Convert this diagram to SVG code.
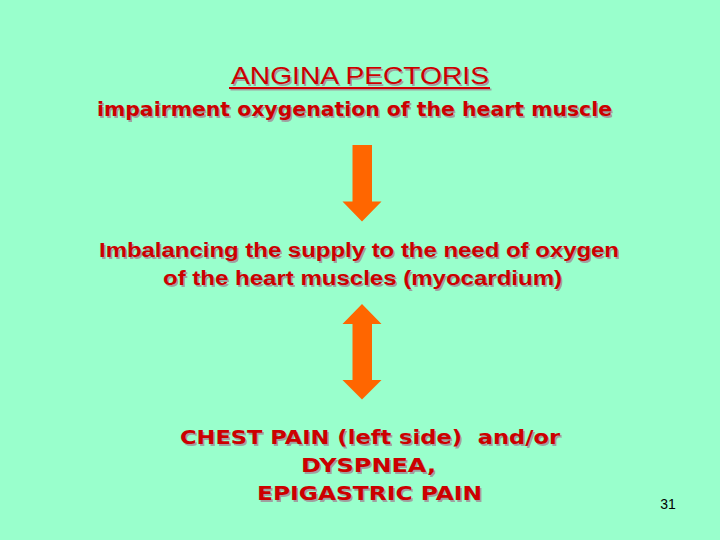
<svg xmlns="http://www.w3.org/2000/svg" width="720" height="540" viewBox="0 0 720 540">
<style>
.t{fill:#cc0000;text-anchor:middle}
.s{fill:#a0a0a0;text-anchor:middle}
.a{font-family:"Liberation Sans",Arial,sans-serif}
.c{font-family:"DejaVu Sans",sans-serif;font-size:20px;font-weight:bold}
.b{font-family:"Liberation Sans",Arial,sans-serif;font-weight:bold;font-size:20px}
.arrow{fill:#ff6600}
</style>
<defs>
<filter id="sh" x="-5%" y="-20%" width="110%" height="140%"><feGaussianBlur stdDeviation="0.4"/></filter>
</defs>
<rect width="720" height="540" fill="#99ffcc"/>
<g id="title">
<text class="s a" x="361.5" y="85.5" font-size="24" textLength="258" lengthAdjust="spacingAndGlyphs" filter="url(#sh)">ANGINA PECTORIS</text>
<rect x="230.5" y="88.5" width="261" height="2" fill="#a0a0a0"/>
<text class="t a" x="360" y="84" font-size="24" textLength="258" lengthAdjust="spacingAndGlyphs">ANGINA PECTORIS</text>
<rect x="229" y="87" width="261" height="2" fill="#cc0000"/>
<text class="s c" x="356" y="117.5" textLength="515" lengthAdjust="spacingAndGlyphs" filter="url(#sh)">impairment oxygenation of the heart muscle</text>
<text class="t c" x="354.5" y="116" textLength="515" lengthAdjust="spacingAndGlyphs">impairment oxygenation of the heart muscle</text>
</g>
<g id="imbalance">
<text class="s b" x="360.5" y="258.5" textLength="520" lengthAdjust="spacingAndGlyphs" filter="url(#sh)">Imbalancing the supply to the need of oxygen</text>
<text class="t b" x="359" y="257" textLength="520" lengthAdjust="spacingAndGlyphs">Imbalancing the supply to the need of oxygen</text>
<text class="s b" x="364" y="286.5" textLength="399" lengthAdjust="spacingAndGlyphs" filter="url(#sh)">of the heart muscles (myocardium)</text>
<text class="t b" x="362.5" y="285" textLength="399" lengthAdjust="spacingAndGlyphs">of the heart muscles (myocardium)</text>
</g>
<g id="symptoms">
<text class="s c" x="371.5" y="445.5" textLength="380" lengthAdjust="spacingAndGlyphs" filter="url(#sh)" xml:space="preserve">CHEST PAIN (left side)  and/or</text>
<text class="t c" x="370" y="444" textLength="380" lengthAdjust="spacingAndGlyphs" xml:space="preserve">CHEST PAIN (left side)  and/or</text>
<text class="s c" x="370" y="473.5" textLength="135" lengthAdjust="spacingAndGlyphs" filter="url(#sh)">DYSPNEA,</text>
<text class="t c" x="368.5" y="472" textLength="135" lengthAdjust="spacingAndGlyphs">DYSPNEA,</text>
<text class="s c" x="371" y="501.5" textLength="225" lengthAdjust="spacingAndGlyphs" filter="url(#sh)">EPIGASTRIC PAIN</text>
<text class="t c" x="369.5" y="500" textLength="225" lengthAdjust="spacingAndGlyphs">EPIGASTRIC PAIN</text>
</g>
<g id="connectors">
<path class="arrow" d="M352.5 145 H372 V201.5 H381.5 L362 221.5 L342.5 201.5 H352.5 Z"/>
<path class="arrow" d="M362 304 L381.5 324 H372 V380 H381.5 L362 399.5 L342.5 380 H352.5 V324 H342.5 Z"/>
</g>
<g id="page">
<text x="668" y="509" font-family="'Liberation Sans',Arial,sans-serif" font-size="14" fill="#000" text-anchor="middle">31</text>
</g>
</svg>
